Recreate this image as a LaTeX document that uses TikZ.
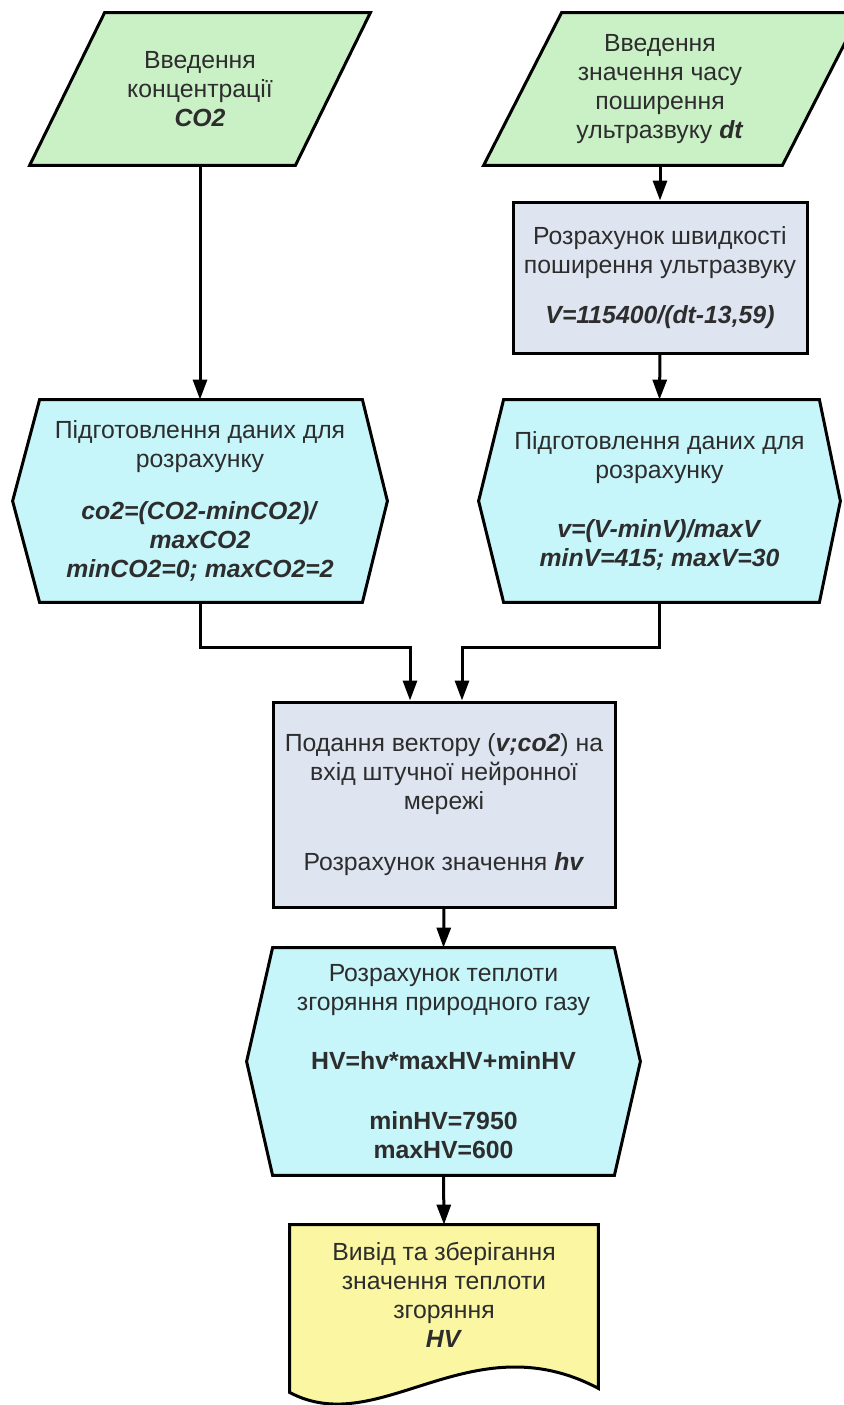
\documentclass[tikz,border=0pt]{standalone}
\usepackage{fontspec}
\setmainfont{Liberation Sans}
\usetikzlibrary{arrows.meta,backgrounds}

\definecolor{inputgreen}{RGB}{202,241,198}
\definecolor{prepcyan}{RGB}{198,245,250}
\definecolor{calcblue}{RGB}{222,229,241}
\definecolor{outyellow}{RGB}{251,246,162}
\definecolor{textgray}{RGB}{45,45,45}

\tikzset{
  block/.style={align=center, inner sep=0pt, text=textgray, font=\fontsize{12.4}{14.6}\selectfont},
  procbox/.style={block, draw=black, line width=1.5pt, fill=calcblue},
  outline/.style={draw=black, line width=1.5pt},
  flow/.style={line width=1.5pt, -{Triangle[length=10pt,width=7pt]}},
}

\begin{document}
\begin{tikzpicture}[x=0.5pt, y=-0.5pt]
    \useasboundingbox (0,0) rectangle (844,1405);
    % input blocks
    \node[block, minimum width=170pt, minimum height=76pt] at (200,89) (inCO) {Введення\\концентрації\\\textbf{\textit{CO2}}};
    \node[block, minimum width=176pt, minimum height=76pt] at (660,89) (inDT) {Введення\\значення часу\\поширення\\ультразвуку \textbf{\textit{dt}}};
    \node[procbox, minimum width=147pt, minimum height=75.5pt] at (660,277.5) (calcV) {Розрахунок швидкості\\поширення ультразвуку\\[10.5pt]\textbf{\textit{V=115400/(dt-13,59)}}};
    % preparation blocks
    \node[block, minimum width=187pt, minimum height=101pt] at (200,501) (prepCO) {Підготовлення даних для\\розрахунку\\[11pt]\textbf{\textit{co2=(CO2-minCO2)/}}\\\textbf{\textit{maxCO2}}\\\textbf{\textit{minCO2=0; maxCO2=2}}};
    \node[block, minimum width=180.5pt, minimum height=101pt] at (659.5,501) (prepV) {Підготовлення даних для\\розрахунку\\[15pt]\textbf{\textit{v=(V-minV)/maxV}}\\\textbf{\textit{minV=415; maxV=30}}};
    % network and result
    \node[procbox, minimum width=171pt, minimum height=102.5pt] at (444,804.5) (feed) {Подання вектору (\textbf{\textit{v;co2}}) на\\вхід штучної нейронної\\мережі\\[16pt]Розрахунок значення \textbf{\textit{hv}}};
    \node[block, minimum width=196.5pt, minimum height=113.5pt] at (443.5,1061.5) (calcHV) {Розрахунок теплоти\\згоряння природного газу\\[15pt]\textbf{HV=hv*maxHV+minHV}\\[15pt]\textbf{minHV=7950}\\\textbf{maxHV=600}};
    \node[block, minimum width=154pt, minimum height=70pt] at (444,1295) (out) {Вивід та зберігання\\значення теплоти\\згоряння\\\textbf{\textit{HV}}};

    \begin{scope}[on background layer]
        \clip (0,0) rectangle (844,1405);
        \draw[outline, fill=inputgreen] ([shift={(75,0)}]inCO.north west) -- (inCO.north east) -- ([shift={(-75,0)}]inCO.south east) -- (inCO.south west) -- cycle;
        \draw[outline, fill=inputgreen] ([shift={(78,0)}]inDT.north west) -- ([shift={(24,0)}]inDT.north east) -- ([shift={(-54,0)}]inDT.south east) -- (inDT.south west) -- cycle;
        \draw[outline, fill=prepcyan] ([shift={(27,0)}]prepCO.north west) -- ([shift={(-25,0)}]prepCO.north east) -- (prepCO.east) -- ([shift={(-25,0)}]prepCO.south east) -- ([shift={(27,0)}]prepCO.south west) -- (prepCO.west) -- cycle;
        \draw[outline, fill=prepcyan] ([shift={(25,0)}]prepV.north west) -- ([shift={(-21,0)}]prepV.north east) -- (prepV.east) -- ([shift={(-21,0)}]prepV.south east) -- ([shift={(25,0)}]prepV.south west) -- (prepV.west) -- cycle;
        \draw[outline, fill=prepcyan] ([shift={(26,0)}]calcHV.north west) -- ([shift={(-26,0)}]calcHV.north east) -- (calcHV.east) -- ([shift={(-26,0)}]calcHV.south east) -- ([shift={(26,0)}]calcHV.south west) -- (calcHV.west) -- cycle;
        \draw[outline, fill=outyellow] (out.north west) -- (out.north east) -- ([shift={(0,23)}]out.south east) .. controls ([shift={(-128,-45)}]out.south east) and ([shift={(90,75)}]out.south west) .. ([shift={(0,27)}]out.south west) -- cycle;
    \end{scope}

    % connectors
    \draw[flow] (inCO.south) -- (prepCO.north);
    \draw[flow] (inDT.south) -- (calcV.north);
    \draw[flow] (calcV.south) -- (prepV.north);
    \draw[flow] (prepCO.south) -- ++(0,45) -| ([shift={(-34,0)}]feed.north);
    \draw[flow] (prepV.south) -- ++(0,45) -| ([shift={(18,0)}]feed.north);
    \draw[flow] (feed.south) -- (calcHV.north);
    \draw[flow] (calcHV.south) -- (out.north);
\end{tikzpicture}
\end{document}
